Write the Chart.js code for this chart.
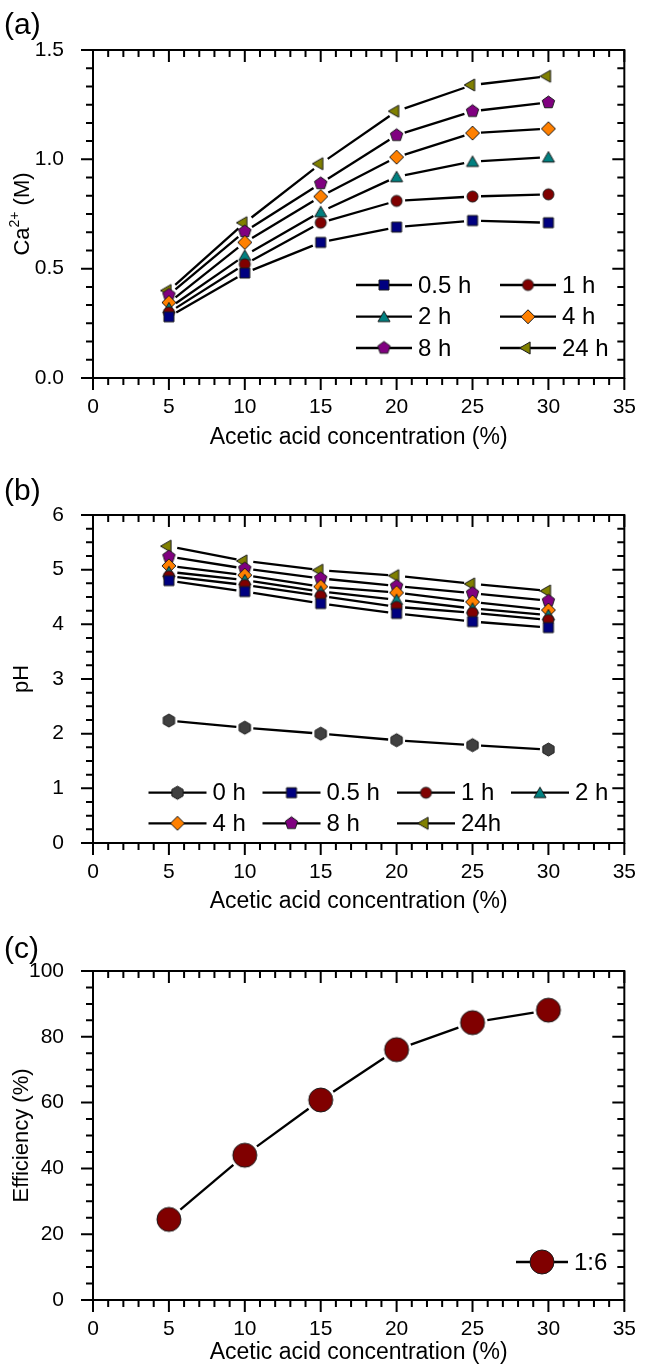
<!DOCTYPE html>
<html>
<head>
<meta charset="utf-8">
<script src="https://cdn.jsdelivr.net/npm/chart.js@4.4.0/dist/chart.umd.min.js"></script>
<style>
  html, body { margin: 0; padding: 0; background: #fff; }
  #wrap { position: relative; width: 645px; height: 1366px; }
  canvas { position: absolute; left: 0; }
</style>
</head>
<body>
<div id="wrap">
  <canvas id="chartA" width="645" height="465" style="top:0"></canvas>
  <canvas id="chartB" width="645" height="455" style="top:465px"></canvas>
  <canvas id="chartC" width="645" height="446" style="top:920px"></canvas>
</div>
<script>
var concentration = [5, 10, 15, 20, 25, 30];

// (a) Ca2+ in solution (M) after each leaching time
var caLabels = ['0.5 h', '1 h', '2 h', '4 h', '8 h', '24 h'];
var ca05 = [0.28, 0.48, 0.62, 0.69, 0.72, 0.71];
var ca1  = [0.30, 0.52, 0.71, 0.81, 0.83, 0.84];
var ca2  = [0.32, 0.56, 0.76, 0.92, 0.99, 1.01];
var ca4  = [0.345, 0.62, 0.83, 1.01, 1.12, 1.14];
var ca8  = [0.38, 0.67, 0.89, 1.11, 1.22, 1.26];
var ca24 = [0.40, 0.71, 0.98, 1.22, 1.34, 1.38];

// (b) pH
var phLabels = ['0 h', '0.5 h', '1 h', '2 h', '4 h', '8 h', '24h'];
var ph0  = [2.24, 2.11, 2.00, 1.88, 1.79, 1.71];
var ph05 = [4.80, 4.60, 4.38, 4.20, 4.05, 3.94];
var ph1  = [4.88, 4.72, 4.52, 4.32, 4.21, 4.08];
var ph2  = [4.96, 4.81, 4.60, 4.45, 4.29, 4.17];
var ph4  = [5.07, 4.90, 4.69, 4.58, 4.41, 4.26];
var ph8  = [5.24, 5.02, 4.84, 4.70, 4.57, 4.43];
var ph24 = [5.43, 5.16, 4.99, 4.89, 4.74, 4.61];

// (c) efficiency (%)
var effLabel = '1:6';
var efficiency = [24.5, 44.0, 60.8, 76.1, 84.3, 88.1];

var FONT = 'Liberation Sans, Arial, DejaVu Sans, sans-serif';

// symbol sprites (Chart.js accepts a canvas as pointStyle)
function marker(shape, fill, r) {
    var size = Math.ceil(r * 2 + 4);
    var c = document.createElement('canvas');
    c.width = size; c.height = size;
    var g = c.getContext('2d');
    var m = size / 2;
    g.beginPath();
    if (shape === 'square') {
        g.rect(m - r, m - r, r * 2, r * 2);
    } else if (shape === 'circle') {
        g.arc(m, m, r, 0, Math.PI * 2);
    } else {
        var sides = { triangle: 3, left: 3, diamond: 4, pentagon: 5, hexagon: 6 }[shape];
        var start = shape === 'left' ? Math.PI : -Math.PI / 2;
        var off = (shape === 'triangle') ? r * 0.2 : (shape === 'left' ? -r * 0.2 : 0);
        for (var i = 0; i < sides; i++) {
            var a = start + i * 2 * Math.PI / sides;
            var px = m + r * Math.cos(a) + (shape === 'left' ? off : 0);
            var py = m + r * Math.sin(a) + (shape === 'triangle' ? off : 0);
            if (i === 0) g.moveTo(px, py); else g.lineTo(px, py);
        }
        g.closePath();
    }
    g.fillStyle = fill;
    g.fill();
    g.lineWidth = 1;
    g.strokeStyle = '#1a1a1a';
    g.stroke();
    return c;
}

var sym = {
    hex:   marker('hexagon', '#404040', 6.5),
    sq:    marker('square', '#000080', 5),
    circ:  marker('circle', '#800000', 5.5),
    tri:   marker('triangle', '#008080', 7),
    dia:   marker('diamond', '#ff8000', 7),
    pent:  marker('pentagon', '#800080', 6.5),
    left:  marker('left', '#808000', 7),
    big:   marker('circle', '#800000', 12)
};

function points(ys) {
    return concentration.map(function (x, i) { return { x: x, y: ys[i] }; });
}

function series(label, ys, style) {
    return { label: label, data: points(ys), pointStyle: style, pointRadius: 6, showLine: false };
}

// black connecting lines that stop short of each symbol
var gapLines = {
    id: 'gapLines',
    beforeDatasetsDraw: function (chart, args, opts) {
        var ctx = chart.ctx;
        ctx.save();
        ctx.strokeStyle = '#000';
        ctx.lineWidth = 2.3;
        chart.data.datasets.forEach(function (ds, i) {
            var pts = chart.getDatasetMeta(i).data;
            for (var k = 1; k < pts.length; k++) {
                var a = pts[k - 1], b = pts[k];
                var dx = b.x - a.x, dy = b.y - a.y, len = Math.sqrt(dx * dx + dy * dy);
                if (len <= opts.gap * 2) continue;
                var ux = dx / len, uy = dy / len;
                ctx.beginPath();
                ctx.moveTo(a.x + ux * opts.gap, a.y + uy * opts.gap);
                ctx.lineTo(b.x - ux * opts.gap, b.y - uy * opts.gap);
                ctx.stroke();
            }
        });
        ctx.restore();
    }
};

// boxed frame with major/minor ticks: outward on bottom/left, inward on top/right
var frameTicks = {
    id: 'frameTicks',
    afterDraw: function (chart, args, o) {
        var ctx = chart.ctx, a = chart.chartArea;
        var xs = chart.scales.x, ys = chart.scales.y;
        ctx.save();
        ctx.strokeStyle = '#000';
        ctx.lineWidth = 2;
        ctx.beginPath();
        function run(scale, minor, perMajor, fn) {
            var n = Math.round((scale.max - scale.min) / minor);
            for (var i = 0; i <= n; i++) {
                var p = scale.getPixelForValue(scale.min + i * minor);
                fn(p, i % perMajor === 0 ? 12 : 7);
            }
        }
        run(xs, o.xMinor, o.xPer, function (p, len) {
            ctx.moveTo(p, a.bottom); ctx.lineTo(p, a.bottom + len);
            ctx.moveTo(p, a.top); ctx.lineTo(p, a.top + len);
        });
        run(ys, o.yMinor, o.yPer, function (p, len) {
            ctx.moveTo(a.left - len, p); ctx.lineTo(a.left, p);
            ctx.moveTo(a.right - len, p); ctx.lineTo(a.right, p);
        });
        ctx.stroke();
        ctx.strokeRect(a.left, a.top, a.right - a.left, a.bottom - a.top);
        ctx.restore();
    }
};

// in-plot legend on a fixed grid of slots
var slotLegend = {
    id: 'slotLegend',
    afterDraw: function (chart, args, o) {
        var ctx = chart.ctx;
        ctx.save();
        ctx.font = o.size + 'px ' + FONT;
        ctx.textBaseline = 'middle';
        ctx.fillStyle = '#000';
        ctx.strokeStyle = '#000';
        ctx.lineWidth = 2.3;
        chart.data.datasets.forEach(function (ds, i) {
            var col = i % o.cols.length, row = Math.floor(i / o.cols.length);
            var x = o.cols[col], y = o.rows[row];
            ctx.beginPath();
            ctx.moveTo(x - o.half, y); ctx.lineTo(x + o.half, y);
            ctx.stroke();
            var img = ds.pointStyle;
            ctx.drawImage(img, x - img.width / 2, y - img.height / 2);
            ctx.fillText(ds.label, x + o.half + 6, y + 1);
        });
        ctx.restore();
    }
};

// panel letter and, where needed, a y title with a real superscript
var panelText = {
    id: 'panelText',
    afterDraw: function (chart, args, o) {
        var ctx = chart.ctx, a = chart.chartArea;
        ctx.save();
        ctx.font = '30px ' + FONT;
        ctx.fillStyle = '#000';
        ctx.textBaseline = 'middle';
        ctx.fillText(o.tag, 4, o.tagY);
        if (o.yParts) {
            ctx.translate(o.yX, (a.top + a.bottom) / 2);
            ctx.rotate(-Math.PI / 2);
            var total = 0;
            o.yParts.forEach(function (p) {
                ctx.font = p.size + 'px ' + FONT;
                total += ctx.measureText(p.text).width;
            });
            var x = -total / 2;
            o.yParts.forEach(function (p) {
                ctx.font = p.size + 'px ' + FONT;
                ctx.fillText(p.text, x, p.rise || 0);
                x += ctx.measureText(p.text).width;
            });
        }
        ctx.restore();
    }
};

function makeChart(id, p) {
    var ctx = document.getElementById(id).getContext('2d');
    return new Chart(ctx, {
        type: 'scatter',
        data: { datasets: p.datasets },
        plugins: [gapLines, frameTicks, slotLegend, panelText],
        options: {
            responsive: false,
            animation: false,
            events: [],
            layout: { padding: { top: p.top, right: 17, left: 0, bottom: 0 } },
            scales: {
                x: {
                    type: 'linear', min: 0, max: 35,
                    grid: { display: false }, border: { display: false },
                    ticks: { stepSize: 5, padding: 9, color: '#000', font: { family: FONT, size: 21 } },
                    title: { display: true, text: 'Acetic acid concentration (%)', color: '#000',
                             font: { family: FONT, size: 23 }, padding: { top: 0, bottom: p.titleGap } },
                    afterFit: function (s) { s.height = p.xHeight; }
                },
                y: {
                    type: 'linear', min: p.yMin, max: p.yMax,
                    grid: { display: false }, border: { display: false },
                    ticks: { stepSize: p.yStep, padding: 21, color: '#000', font: { family: FONT, size: 21 },
                             callback: p.yFormat },
                    title: { display: !!p.yTitle, text: p.yTitle || '', color: '#000',
                             font: { family: FONT, size: 22 }, padding: { top: 9, bottom: 0 } },
                    afterFit: function (s) { s.width = 93; }
                }
            },
            plugins: {
                legend: { display: false },
                tooltip: { enabled: false },
                gapLines: { gap: p.gap },
                frameTicks: { xMinor: 1, xPer: 5, yMinor: p.yMinor, yPer: p.yPer },
                slotLegend: p.legend,
                panelText: p.text
            }
        }
    });
}

makeChart('chartA', {
    datasets: [
        series(caLabels[0], ca05, sym.sq),
        series(caLabels[1], ca1, sym.circ),
        series(caLabels[2], ca2, sym.tri),
        series(caLabels[3], ca4, sym.dia),
        series(caLabels[4], ca8, sym.pent),
        series(caLabels[5], ca24, sym.left)
    ],
    top: 50, xHeight: 87, titleGap: 14,
    yMin: 0, yMax: 1.5, yStep: 0.5, yMinor: 0.5 / 6, yPer: 6,
    yFormat: function (v) { return v.toFixed(1); },
    gap: 8.5,
    legend: { size: 24, cols: [384, 528], rows: [285, 316.7, 348], half: 28 },
    text: { tag: '(a)', tagY: 26, yX: 23,
            yParts: [{ text: 'Ca', size: 22 }, { text: '2+', size: 14, rise: -8 }, { text: ' (M)', size: 22 }] }
});

makeChart('chartB', {
    datasets: [
        series(phLabels[0], ph0, sym.hex),
        series(phLabels[1], ph05, sym.sq),
        series(phLabels[2], ph1, sym.circ),
        series(phLabels[3], ph2, sym.tri),
        series(phLabels[4], ph4, sym.dia),
        series(phLabels[5], ph8, sym.pent),
        series(phLabels[6], ph24, sym.left)
    ],
    top: 50, xHeight: 77, titleGap: 5,
    yMin: 0, yMax: 6, yStep: 1, yMinor: 0.25, yPer: 4,
    yFormat: function (v) { return v.toString(); },
    yTitle: 'pH',
    gap: 8.5,
    legend: { size: 24, cols: [177.5, 291.5, 426, 540], rows: [327.7, 358.3], half: 29 },
    text: { tag: '(b)', tagY: 27 }
});

makeChart('chartC', {
    datasets: [
        series(effLabel, efficiency, sym.big)
    ],
    top: 51, xHeight: 66, titleGap: 0,
    yMin: 0, yMax: 100, yStep: 20, yMinor: 5, yPer: 4,
    yFormat: function (v) { return v.toString(); },
    yTitle: 'Efficiency (%)',
    gap: 15,
    legend: { size: 24, cols: [542], rows: [342], half: 26 },
    text: { tag: '(c)', tagY: 30 }
});
</script>
</body>
</html>
